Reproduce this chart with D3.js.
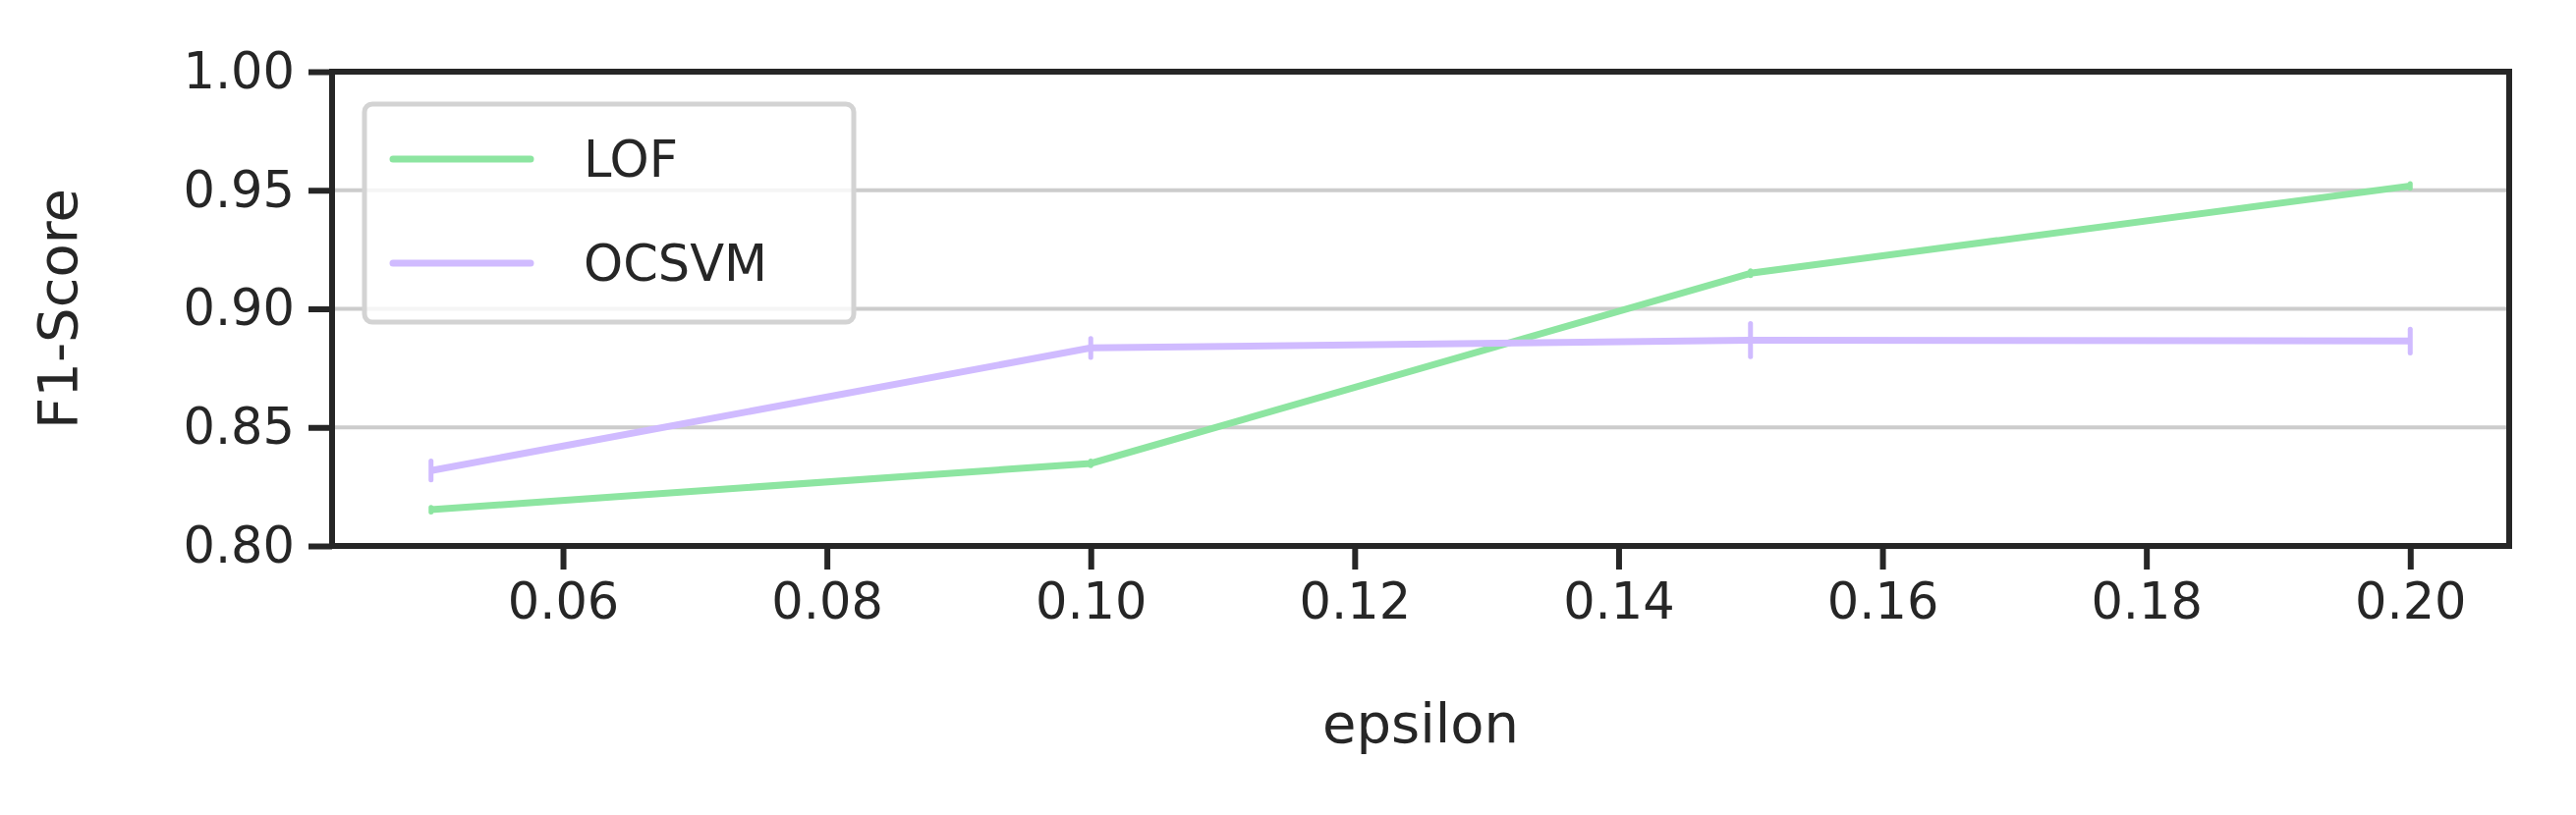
<!DOCTYPE html>
<meta charset="utf-8">
<head>
  <script src="https://d3js.org/d3.v7.min.js"></script>
  <style>
    body { margin: 0; background: #fff; }
    text { font-family: "DejaVu Sans", sans-serif; fill: #262626; }
  </style>
</head>
<body>
<script>
var epsilon = [0.05, 0.10, 0.15, 0.20];
var lofMean = [0.8153, 0.8348, 0.915, 0.9518];
var lofErr = [0.001, 0.001, 0.001, 0.001];
var ocsvmMean = [0.8318, 0.8835, 0.8868, 0.8864];
var ocsvmErr = [0.004, 0.004, 0.007, 0.005];
var xTicks = [0.06, 0.08, 0.10, 0.12, 0.14, 0.16, 0.18, 0.20];
var yTicks = [0.80, 0.85, 0.90, 0.95, 1.00];

var series = [
  {name: "LOF", mean: lofMean, err: lofErr, color: "#8de5a1"},
  {name: "OCSVM", mean: ocsvmMean, err: ocsvmErr, color: "#d0bbff"}
];

var W = 2622, H = 830;
var pLeft = 338, pRight = 2554, pTop = 73, pBottom = 556;

var svg = d3.select("body").append("svg")
    .attr("width", W).attr("height", H);

var x = d3.scaleLinear().domain([0.0425, 0.2075]).range([pLeft, pRight]);
var y = d3.scaleLinear().domain([0.80, 1.00]).range([pBottom, pTop]);

// grid
svg.selectAll("line.grid").data(yTicks).enter().append("line")
    .attr("x1", pLeft).attr("x2", pRight)
    .attr("y1", d => y(d)).attr("y2", d => y(d))
    .attr("stroke", "#cccccc").attr("stroke-width", 4);

// axes
var xAxis = svg.append("g").attr("transform", "translate(0," + pBottom + ")")
    .call(d3.axisBottom(x).tickValues(xTicks).tickFormat(d3.format(".2f")).tickSize(24).tickPadding(14));
var yAxis = svg.append("g").attr("transform", "translate(" + pLeft + ",0)")
    .call(d3.axisLeft(y).tickValues(yTicks).tickFormat(d3.format(".2f")).tickSize(24).tickPadding(14));
[xAxis, yAxis].forEach(function(a) {
  a.select(".domain").remove();
  a.selectAll(".tick line").attr("stroke", "#262626").attr("stroke-width", 6);
  a.selectAll(".tick text").style("font-size", "51px").attr("fill", "#262626");
});

// lines + error bars
var line = d3.line().x((d, i) => x(epsilon[i])).y(d => y(d));
series.forEach(function(s) {
  svg.append("path").datum(s.mean)
      .attr("d", line).attr("fill", "none")
      .attr("stroke", s.color).attr("stroke-width", 7);
  svg.selectAll(null).data(s.mean).enter().append("line")
      .attr("x1", (d, i) => x(epsilon[i])).attr("x2", (d, i) => x(epsilon[i]))
      .attr("y1", (d, i) => y(d - s.err[i])).attr("y2", (d, i) => y(d + s.err[i]))
      .attr("stroke", s.color).attr("stroke-width", 5).attr("stroke-linecap", "round");
});

// frame
svg.append("rect").attr("x", pLeft).attr("y", pTop)
    .attr("width", pRight - pLeft).attr("height", pBottom - pTop)
    .attr("fill", "none").attr("stroke", "#262626").attr("stroke-width", 6);

// labels
svg.append("text").attr("x", (pLeft + pRight) / 2).attr("y", 756)
    .attr("text-anchor", "middle").style("font-size", "56px").text("epsilon");
svg.append("text").attr("transform", "translate(58," + (pTop + pBottom) / 2 + ") rotate(-90)")
    .attr("text-anchor", "middle").attr("dy", "0.35em").style("font-size", "56px").text("F1-Score");

// legend
var lg = svg.append("g");
lg.append("rect").attr("x", 371).attr("y", 106).attr("width", 498).attr("height", 222)
    .attr("rx", 8).attr("fill", "#fff").attr("fill-opacity", 0.8)
    .attr("stroke", "#d3d3d3").attr("stroke-width", 5);
series.forEach(function(s, i) {
  var ly = 162 + i * 106;
  lg.append("line").attr("x1", 400).attr("x2", 540).attr("y1", ly).attr("y2", ly)
      .attr("stroke", s.color).attr("stroke-width", 7).attr("stroke-linecap", "round");
  lg.append("text").attr("x", 594).attr("y", ly).attr("dy", "0.35em")
      .style("font-size", "51px").text(s.name);
});
</script>
</body>
